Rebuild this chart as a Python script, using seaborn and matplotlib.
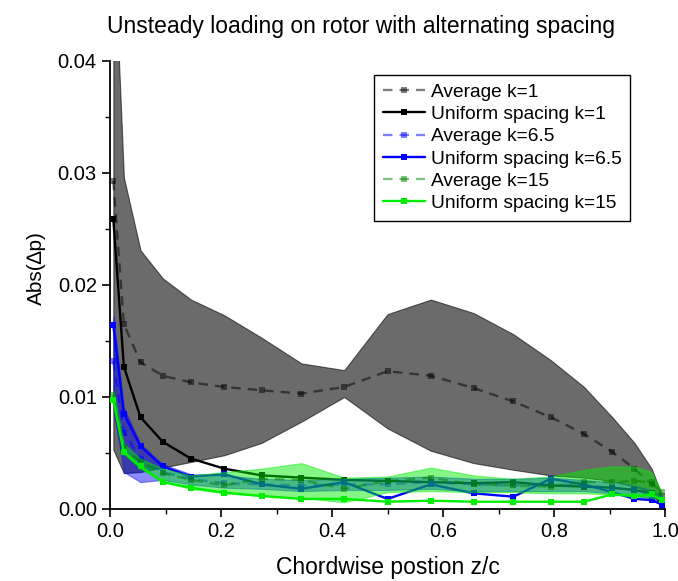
import matplotlib
matplotlib.use("Agg")
import matplotlib.pyplot as plt
import seaborn as sns
import numpy as np
from matplotlib.ticker import MultipleLocator, FormatStrFormatter

# Chordwise positions z/c
z = [0.006, 0.025, 0.055, 0.095, 0.146, 0.206, 0.273, 0.345, 0.422, 0.500,
     0.578, 0.655, 0.727, 0.794, 0.854, 0.905, 0.945, 0.976, 0.994]

# k = 1
avg_k1 = [0.0293, 0.0165, 0.0131, 0.0119, 0.0113, 0.0109, 0.0106, 0.0103, 0.0109, 0.0123,
          0.0119, 0.0108, 0.0096, 0.0082, 0.0067, 0.0051, 0.0036, 0.0022, 0.0012]
hi_k1 = [0.0520, 0.0296, 0.0231, 0.0206, 0.0187, 0.0173, 0.0153, 0.0130, 0.0124, 0.0174,
         0.0187, 0.0175, 0.0156, 0.0133, 0.0109, 0.0082, 0.0059, 0.0036, 0.0013]
lo_k1 = [0.0053, 0.0032, 0.0033, 0.0037, 0.0042, 0.0048, 0.0059, 0.0078, 0.0100, 0.0072,
         0.0052, 0.0041, 0.0035, 0.0030, 0.0028, 0.0025, 0.0020, 0.0015, 0.0008]
uni_k1 = [0.0259, 0.0127, 0.0082, 0.0060, 0.0045, 0.0036, 0.0030, 0.0028, 0.0026, 0.0025,
          0.0024, 0.0023, 0.0024, 0.0021, 0.0020, 0.0019, 0.0017, 0.0014, 0.0005]

# k = 6.5
avg_k65 = [0.0132, 0.0068, 0.0045, 0.0033, 0.0027, 0.0023, 0.0022, 0.0021, 0.0022, 0.0022,
           0.0024, 0.0022, 0.0021, 0.0022, 0.0021, 0.0019, 0.0017, 0.0013, 0.0008]
hi_k65 = [0.0172, 0.0090, 0.0058, 0.0040, 0.0031, 0.0030, 0.0027, 0.0026, 0.0027, 0.0028,
          0.0029, 0.0027, 0.0027, 0.0028, 0.0026, 0.0024, 0.0021, 0.0017, 0.0011]
lo_k65 = [0.0090, 0.0033, 0.0024, 0.0026, 0.0022, 0.0019, 0.0018, 0.0016, 0.0017, 0.0017,
          0.0018, 0.0016, 0.0016, 0.0016, 0.0016, 0.0014, 0.0012, 0.0009, 0.0005]
uni_k65 = [0.0164, 0.0085, 0.0056, 0.0038, 0.0029, 0.0031, 0.0022, 0.0018, 0.0024, 0.0009,
           0.0022, 0.0014, 0.0011, 0.0027, 0.0022, 0.0015, 0.0009, 0.0008, 0.0004]

# k = 15
avg_k15 = [0.0102, 0.0055, 0.0042, 0.0032, 0.0026, 0.0021, 0.0027, 0.0026, 0.0018, 0.0025,
           0.0028, 0.0022, 0.0021, 0.0020, 0.0024, 0.0024, 0.0025, 0.0024, 0.0015]
hi_k15 = [0.0106, 0.0058, 0.0045, 0.0036, 0.0030, 0.0033, 0.0036, 0.0041, 0.0028, 0.0029,
          0.0037, 0.0030, 0.0027, 0.0029, 0.0035, 0.0038, 0.0038, 0.0033, 0.0015]
lo_k15 = [0.0095, 0.0049, 0.0036, 0.0024, 0.0018, 0.0014, 0.0012, 0.0010, 0.0006, 0.0015,
          0.0016, 0.0015, 0.0015, 0.0014, 0.0014, 0.0013, 0.0011, 0.0010, 0.0008]
uni_k15 = [0.0097, 0.0051, 0.0038, 0.0024, 0.0019, 0.00146, 0.00116, 0.0009, 0.0009, 0.00065,
           0.00074, 0.00065, 0.00065, 0.00065, 0.00065, 0.0013, 0.00116, 0.0013, 0.0008]

labels = ["Average k=1", "Uniform spacing k=1", "Average k=6.5",
          "Uniform spacing k=6.5", "Average k=15", "Uniform spacing k=15"]

sns.set_style("ticks")
plt.rcParams['font.family'] = ['Liberation Sans', 'DejaVu Sans']
plt.rcParams['text.color'] = 'black'
plt.rcParams['axes.labelcolor'] = 'black'

fig = plt.figure(figsize=(6.78, 5.81), dpi=100)
ax = fig.add_axes([110/678, 1-509/581, 555/678, 448/581])

groups = [
    (avg_k1, hi_k1, lo_k1, uni_k1, "black", 0.58, "black", 0.5, "black"),
    (avg_k65, hi_k65, lo_k65, uni_k65, "blue", 0.45, "blue", 0.5, "blue"),
    (avg_k15, hi_k15, lo_k15, uni_k15, "#00ee00", 0.48, "green", 0.5, "#00ee00"),
]
for i, (avg, hi, lo, uni, bandc, balpha, avgc, aalpha, unic) in enumerate(groups):
    ax.fill_between(z, lo, hi, color=bandc, alpha=balpha, linewidth=0.8,
                    edgecolor=bandc, zorder=2 + i * 3)
    sns.lineplot(x=z, y=avg, ax=ax, color=avgc, alpha=aalpha, linestyle=(0, (4, 3)),
                 linewidth=1.7, marker='s', markersize=4, markeredgewidth=0,
                 label=labels[2 * i], zorder=3 + i * 3, sort=False, estimator=None)
    sns.lineplot(x=z, y=uni, ax=ax, color=unic, linewidth=1.7, marker='s',
                 markersize=5, markeredgewidth=0, label=labels[2 * i + 1],
                 zorder=4 + i * 3, sort=False, estimator=None)

ax.set_xlim(0, 1.0)
ax.set_ylim(0, 0.04)
ax.xaxis.set_major_locator(MultipleLocator(0.2))
ax.xaxis.set_minor_locator(MultipleLocator(0.1))
ax.yaxis.set_major_locator(MultipleLocator(0.01))
ax.yaxis.set_minor_locator(MultipleLocator(0.005))
ax.xaxis.set_major_formatter(FormatStrFormatter('%.1f'))
ax.yaxis.set_major_formatter(FormatStrFormatter('%.2f'))
for s in ['top', 'right']:
    ax.spines[s].set_visible(False)
for s in ['left', 'bottom']:
    ax.spines[s].set_linewidth(1.3)
    ax.spines[s].set_color('black')
ax.tick_params(which='major', direction='out', length=6, width=1.2, labelsize=14.5, colors='black')
ax.tick_params(which='minor', direction='out', length=3.5, width=1.0, colors='black')

ax.set_xlabel("Chordwise postion z/c", fontsize=16.5, labelpad=11, color='black')
ax.set_ylabel("Abs(\u2206p)", fontsize=15, color='black')
ax.yaxis.set_label_coords(-0.115, 0.538)
ax.set_title("Unsteady loading on rotor with alternating spacing", fontsize=16.5, pad=20,
             x=0.452, color='black')

leg = ax.legend(loc='upper right', bbox_to_anchor=(0.937, 0.969), fontsize=13.8,
                frameon=True, fancybox=False, edgecolor='black', framealpha=1,
                handlelength=2.2, handletextpad=0.3, labelspacing=0.25, borderpad=0.45,
                borderaxespad=0)
leg.get_frame().set_linewidth(1.0)
for t in leg.get_texts():
    t.set_color('black')

fig.savefig("out.png", dpi=100)
